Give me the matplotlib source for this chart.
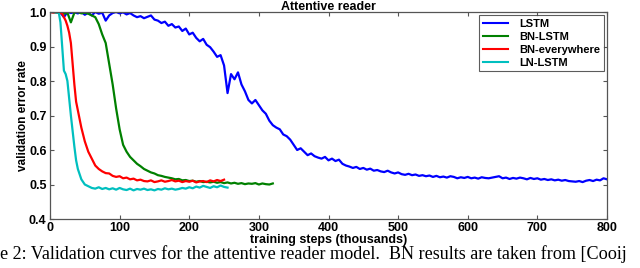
import numpy as np
import matplotlib
matplotlib.use("Agg")
import matplotlib.pyplot as plt

# ---------------- data ----------------
lstm_steps = list(range(0, 805, 5))
lstm_err = [
    1.0, 1.0, 1.0, 0.998, 0.985, 1.0, 0.997, 0.999, 0.996, 1.0,
    0.992, 0.998, 0.99, 1.0, 0.995, 0.998, 0.975, 0.99, 0.997, 1.0,
    0.996, 0.999, 0.993, 0.997, 0.99, 0.985, 0.988, 0.982, 0.986, 0.99,
    0.978, 0.975, 0.968, 0.972, 0.96, 0.965, 0.955, 0.958, 0.945, 0.952,
    0.935, 0.94, 0.925, 0.915, 0.922, 0.905, 0.898, 0.885, 0.87, 0.875,
    0.845, 0.765, 0.82, 0.805, 0.825, 0.79, 0.77, 0.745, 0.735, 0.745,
    0.73, 0.715, 0.705, 0.685, 0.672, 0.665, 0.66, 0.645, 0.64, 0.63,
    0.615, 0.6, 0.605, 0.595, 0.585, 0.59, 0.582, 0.578, 0.575, 0.58,
    0.57, 0.575, 0.568, 0.572, 0.56, 0.555, 0.552, 0.548, 0.551, 0.545,
    0.548, 0.543, 0.546, 0.54, 0.542, 0.538, 0.536, 0.54, 0.535, 0.532,
    0.535, 0.53, 0.528, 0.531, 0.527, 0.529, 0.525, 0.527, 0.524, 0.526,
    0.522, 0.525, 0.521, 0.523, 0.52, 0.524, 0.522, 0.518, 0.521, 0.519,
    0.522, 0.518, 0.52, 0.517, 0.521, 0.519, 0.518, 0.52, 0.522, 0.524,
    0.518, 0.52, 0.516, 0.519, 0.517, 0.52, 0.518, 0.515, 0.519, 0.516,
    0.518, 0.514, 0.516, 0.513, 0.515, 0.512, 0.514, 0.511, 0.513, 0.51,
    0.509, 0.508, 0.51, 0.507, 0.511, 0.513, 0.51, 0.514, 0.512, 0.518,
    0.515,
]

bnlstm_steps = list(range(0, 325, 5))
bnlstm_err = [
    1.0, 1.0, 0.998, 1.0, 0.995, 0.998, 0.97, 0.998, 1.0, 0.996,
    0.998, 0.995, 0.99, 0.985, 0.965, 0.935, 0.91, 0.85, 0.79, 0.72,
    0.66, 0.615, 0.595, 0.58, 0.57, 0.56, 0.553, 0.545, 0.54, 0.535,
    0.532, 0.527, 0.525, 0.522, 0.52, 0.518, 0.515, 0.516, 0.512, 0.513,
    0.51, 0.511, 0.508, 0.51, 0.507, 0.508, 0.506, 0.508, 0.505, 0.507,
    0.504, 0.506, 0.503, 0.505, 0.502, 0.504, 0.501, 0.503, 0.502, 0.504,
    0.5, 0.503, 0.501, 0.5, 0.503,
]

bnevery_steps = [0, 5, 10, 15, 17.5, 20, 22.5, 25, 27.5, 30, 32.5, 35, 37.5,
                 40, 45, 50, 55, 60, 65] + list(range(70, 255, 5))
bnevery_err = [
    1.0, 0.998, 1.0, 0.997, 0.995, 0.985, 0.975, 0.96, 0.94, 0.91,
    0.85, 0.79, 0.74, 0.715, 0.665, 0.625, 0.595, 0.575, 0.555,
    0.545, 0.538, 0.533, 0.532, 0.525, 0.522, 0.524, 0.518, 0.52, 0.515,
    0.517, 0.512, 0.514, 0.51, 0.509, 0.512, 0.507, 0.509, 0.512, 0.508,
    0.51, 0.513, 0.509, 0.511, 0.507, 0.51, 0.508, 0.511, 0.506, 0.509,
    0.51, 0.507, 0.512, 0.509, 0.513, 0.51, 0.514,
]

lnlstm_steps = [0, 5, 10, 12.5, 15, 17.5, 20, 22.5, 25, 27.5, 30, 32.5, 35,
                37.5, 40, 45, 50, 55, 60] + list(range(65, 260, 5))
lnlstm_err = [
    1.0, 1.0, 0.998, 1.0, 0.97, 0.9, 0.83, 0.82, 0.8, 0.75,
    0.7, 0.655, 0.61, 0.57, 0.545, 0.515, 0.5, 0.495, 0.49,
    0.488, 0.492, 0.487, 0.49, 0.486, 0.489, 0.485, 0.49, 0.486, 0.484,
    0.488, 0.483, 0.487, 0.485, 0.488, 0.484, 0.486, 0.483, 0.487, 0.485,
    0.489, 0.486, 0.488, 0.485, 0.487, 0.49, 0.488, 0.492, 0.489, 0.494,
    0.491, 0.496, 0.493, 0.49, 0.495, 0.492, 0.497, 0.493, 0.491,
]

series_names = ["LSTM", "BN-LSTM", "BN-everywhere", "LN-LSTM"]
x_ticks = [0, 100, 200, 300, 400, 500, 600, 700, 800]
y_ticks = [0.4, 0.5, 0.6, 0.7, 0.8, 0.9, 1.0]
caption = ("e 2: Validation curves for the attentive reader model.  "
           "BN results are taken from [Cooij")

# ---------------- plot ----------------
plt.rcParams['font.family'] = ['Liberation Sans', 'DejaVu Sans']
plt.rcParams['font.weight'] = 'bold'

fig = plt.figure(figsize=(6.4, 2.68), dpi=100)
ax = fig.add_axes([50 / 640, 1 - 219 / 268, 557 / 640, 207 / 268])

colors = ["#0000ff", "#008000", "#ff0000", "#00bfbf"]
data = [(lstm_steps, lstm_err), (bnlstm_steps, bnlstm_err),
        (bnevery_steps, bnevery_err), (lnlstm_steps, lnlstm_err)]
for (xs, ys), c, name in zip(data, colors, series_names):
    ax.plot(xs, ys, color=c, lw=1.6, label=name)

ax.set_xlim(0, 800)
ax.set_ylim(0.4, 1.0)
ax.set_xticks(x_ticks)
ax.set_yticks(y_ticks)
ax.set_xticklabels([str(t) for t in x_ticks], fontsize=9, fontweight='bold')
ax.set_yticklabels([f"{t:.1f}" for t in y_ticks], fontsize=9, fontweight='bold')
ax.tick_params(direction='in', top=True, right=True, length=3, color='#555555')
ax.tick_params(axis='x', pad=2.5)
ax.tick_params(axis='y', pad=2.5)
for s in ax.spines.values():
    s.set_color('#555555')
    s.set_linewidth(0.9)

ax.set_title("Attentive reader", fontsize=9, fontweight='bold', pad=1.5)
ax.set_xlabel("training steps (thousands)", fontsize=9, fontweight='bold', labelpad=-0.3)
ax.set_ylabel("validation error rate", fontsize=8.5, fontweight='bold', labelpad=0)

leg = ax.legend(loc='upper right', fontsize=8, frameon=True, fancybox=False,
                borderpad=0.35, labelspacing=0.25, handlelength=2.2,
                handletextpad=1.0, borderaxespad=0.3)
leg.get_frame().set_edgecolor('#333333')
leg.get_frame().set_linewidth(0.8)
for t in leg.get_texts():
    t.set_fontweight('bold')
for h in leg.get_lines():
    h.set_linewidth(1.5)

fig.text(0.0, 1 - 259 / 268, caption, fontsize=13.1, family='Liberation Serif',
         fontweight='normal', ha='left', va='baseline')

fig.savefig("out.png", dpi=100)
